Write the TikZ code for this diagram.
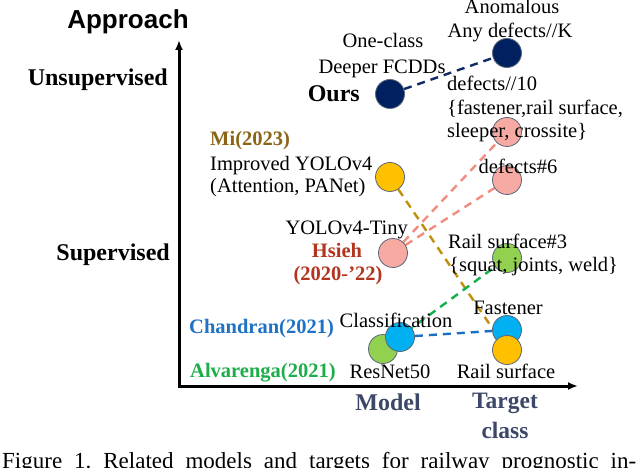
\documentclass[tikz,border=0pt]{standalone}
\usepackage{fontspec}
\setmainfont{Liberation Serif}
\newfontfamily\sansbold{Liberation Sans}
\usetikzlibrary{arrows.meta}
\pgfdeclarelayer{bg}
\pgfsetlayers{bg,main}
\definecolor{navy}{HTML}{002060}
\definecolor{pinkfill}{HTML}{F6AAA2}
\definecolor{yel}{HTML}{FFC000}
\definecolor{grn}{HTML}{92D050}
\definecolor{blu}{HTML}{00B0F0}
\definecolor{edge}{HTML}{5B6678}
\definecolor{goldtxt}{HTML}{8A6516}
\definecolor{hsiehtxt}{HTML}{B3351F}
\definecolor{chantxt}{HTML}{1F72C4}
\definecolor{alvatxt}{HTML}{1DAE4A}
\definecolor{axistxt}{HTML}{3D4868}
\definecolor{pinkline}{HTML}{F08C80}
\definecolor{goldline}{HTML}{C0900A}
\definecolor{grnline}{HTML}{12B04A}
\definecolor{bluline}{HTML}{1A6FC4}
\definecolor{navyline}{HTML}{102A66}
\newcommand{\regf}{\fontsize{20.5bp}{24bp}\selectfont}
\newcommand{\boldf}{\fontsize{20.5bp}{24bp}\selectfont\bfseries}
\newcommand{\bigbf}{\fontsize{24bp}{28bp}\selectfont\bfseries}
\tikzset{
  dot/.style={circle, minimum size=29bp, inner sep=0pt, draw=edge, line width=0.8bp},
  lbl/.style={inner sep=0pt, font=\regf},
  conn/.style={line width=2.4bp, dash pattern=on 8bp off 6bp},
  axisline/.style={line width=3bp, {Latex[length=10bp,width=8bp]}-{Latex[length=10bp,width=8bp]}}
}
\begin{document}
\frenchspacing
\begin{tikzpicture}[x=1bp, y=-1bp]
\useasboundingbox (0,0) rectangle (640,468);
\begin{pgfonlayer}{bg}
\fill[white] (0,0) rectangle (640,468);
\end{pgfonlayer}
% axes
\coordinate (ytip) at (179,40);
\coordinate (org) at (179,386);
\coordinate (xtip) at (578,386);
\draw[axisline] (ytip) -- (org) -- (xtip);
\node[inner sep=0pt, anchor=base, font=\fontsize{26bp}{30bp}\selectfont\sansbold\bfseries] (approach) at (128,29) {Approach};
\node[inner sep=0pt, anchor=base east, font=\bigbf] (unsup) at (168,86) {Unsupervised};
\node[inner sep=0pt, anchor=base east, font=\bigbf] (sup) at (170,261) {Supervised};
\node[inner sep=0pt, anchor=base, font=\bigbf, text=axistxt] (model) at (388,410) {Model};
\node[inner sep=0pt, anchor=base, font=\fontsize{23.5bp}{28bp}\selectfont\bfseries, text=axistxt] (target) at (505,408) {Target};
\node[inner sep=0pt, anchor=base, font=\fontsize{23.5bp}{28bp}\selectfont\bfseries, text=axistxt] (tclass) at (505,438) {class};
% circle nodes
\node[dot, fill=navy] (ours) at (390,94) {};
\node[dot, fill=navy] (anom) at (507,53) {};
\node[dot, fill=pinkfill] (def10) at (507,132) {};
\node[dot, fill=pinkfill] (def6) at (507,180) {};
\node[dot, fill=yel] (mi) at (390,177) {};
\node[dot, fill=pinkfill] (hsieh) at (393,253) {};
\node[dot, fill=grn] (rs3) at (507,258) {};
\node[dot, fill=grn] (alva) at (383,349) {};
\node[dot, fill=blu] (chan) at (400,337) {};
\node[dot, fill=blu] (fast) at (507,330) {};
\node[dot, fill=yel] (rsurf) at (507,350) {};
% connectors (behind nodes)
\begin{pgfonlayer}{bg}
\draw[conn, navyline] (ours) -- (anom);
\draw[conn, pinkline] (hsieh) -- (def10);
\draw[conn, pinkline] (hsieh) -- (def6);
\draw[conn, goldline] (mi) -- (rsurf);
\draw[conn, grnline] (alva) -- (rs3);
\draw[conn, bluline] (chan) -- (fast);
\end{pgfonlayer}
% labels
\node[lbl, anchor=base] (anomt) at (512,14) {Anomalous};
\node[lbl, anchor=base] (anyk) at (510,38) {Any defects//K};
\node[lbl, anchor=base] (oneclass) at (383,48) {One-class};
\node[lbl, anchor=base] (fcdd) at (382,74) {Deeper FCDDs};
\node[inner sep=0pt, anchor=base east, font=\bigbf] (ourst) at (360,102) {Ours};
\node[lbl, anchor=base west] (d10a) at (447,91) {defects//10};
\node[lbl, anchor=base west] (d10b) at (447,115) {\{fastener,rail surface,};
\node[lbl, anchor=base west] (d10c) at (447,138) {sleeper, crossite\}};
\node[lbl, anchor=base] (d6t) at (518,174) {defects\#6};
\node[inner sep=0pt, anchor=base west, font=\boldf, text=goldtxt] (mit) at (210,146) {Mi(2023)};
\node[lbl, anchor=base west] (mia) at (210,171) {Improved YOLOv4};
\node[lbl, anchor=base west] (mib) at (210,193) {(Attention, PANet)};
\node[lbl, anchor=base east] (tiny) at (408,235) {YOLOv4-Tiny};
\node[inner sep=0pt, anchor=base, font=\boldf, text=hsiehtxt] (hsiehtA) at (337,258) {Hsieh};
\node[inner sep=0pt, anchor=base, font=\boldf, text=hsiehtxt] (hsiehtB) at (338,281) {(2020-’22)};
\node[lbl, anchor=base west] (rs3a) at (448,249) {Rail surface\#3};
\node[lbl, anchor=base west] (rs3b) at (449,272) {\{squat, joints, weld\}};
\node[lbl, anchor=base] (classif) at (396,327) {Classification};
\node[inner sep=0pt, anchor=base west, font=\boldf, text=chantxt] (chant) at (189,333) {Chandran(2021)};
\node[lbl, anchor=base] (resnet) at (390,378) {ResNet50};
\node[inner sep=0pt, anchor=base west, font=\boldf, text=alvatxt] (alvat) at (190,377) {Alvarenga(2021)};
\node[lbl, anchor=base] (fastt) at (508,315) {Fastener};
\node[lbl, anchor=base] (rsurft) at (506,378) {Rail surface};
\node[inner sep=0pt, anchor=base west, font=\fontsize{23bp}{26bp}\selectfont] (caption) at (2,468) {\makebox[634bp][s]{Figure 1. Related models and targets for railway prognostic in-}};
\end{tikzpicture}
\end{document}
